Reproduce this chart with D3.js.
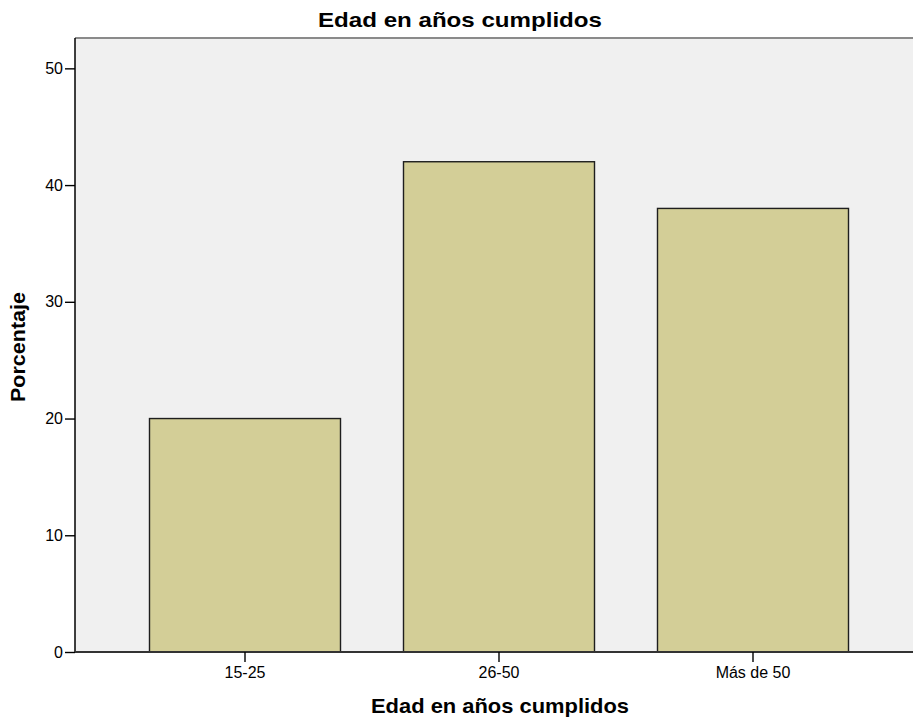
<!DOCTYPE html>
<html>
<head>
<meta charset="utf-8">
<script src="https://cdn.jsdelivr.net/npm/d3@7"></script>
<style>
  html, body { margin: 0; padding: 0; background: #ffffff; }
  svg { display: block; }
  text { font-family: "Liberation Sans", Arial, sans-serif; fill: #000; }
</style>
</head>
<body>
<svg id="chart" width="913" height="725"></svg>
<script>
// Age groups and their share of respondents (%)
const categories = ["15-25", "26-50", "Más de 50"];
const percentages = [20, 42, 38];
const yTicks = [0, 10, 20, 30, 40, 50];

const chartTitle = "Edad en años cumplidos";
const xTitle = "Edad en años cumplidos";
const yTitle = "Porcentaje";

const plot = { left: 75, top: 38, right: 913, bottom: 652 };
const FONT = "'Liberation Sans', Arial, sans-serif";

const svg = d3.select("#chart");

const y = d3.scaleLinear()
  .domain([0, 52.6])
  .range([plot.bottom, plot.top]);

const x = d3.scaleBand()
  .domain(categories)
  .range([118, 880])
  .paddingInner(0.248)
  .paddingOuter(0.124);

// plot background
svg.append("rect")
  .attr("x", plot.left)
  .attr("y", plot.top)
  .attr("width", plot.right - plot.left)
  .attr("height", plot.bottom - plot.top)
  .attr("fill", "#f0f0f0");

// top frame line
svg.append("line")
  .attr("x1", plot.left).attr("x2", plot.right)
  .attr("y1", plot.top).attr("y2", plot.top)
  .attr("stroke", "#8a8a8a").attr("stroke-width", 2);

// bars
svg.append("g")
  .selectAll("rect")
  .data(categories.map((c, i) => ({ c, v: percentages[i] })))
  .join("rect")
  .attr("x", d => x(d.c))
  .attr("y", d => y(d.v))
  .attr("width", x.bandwidth())
  .attr("height", d => y(0) - y(d.v))
  .attr("fill", "#d3ce97")
  .attr("stroke", "#1e1e1e")
  .attr("stroke-width", 1.4);

// y axis
const yAxis = svg.append("g")
  .attr("transform", `translate(${plot.left},0)`)
  .call(d3.axisLeft(y).tickValues(yTicks).tickSize(10).tickSizeOuter(0).tickPadding(2));
yAxis.select(".domain").attr("stroke", "#000").attr("stroke-width", 1.5)
  .attr("d", `M0,${plot.top}V${plot.bottom}`);
yAxis.selectAll(".tick line").attr("stroke", "#000").attr("stroke-width", 1.4);
yAxis.selectAll(".tick text")
  .attr("font-size", 16).attr("fill", "#222").attr("font-family", FONT);

// x axis
const xAxis = svg.append("g")
  .attr("transform", `translate(0,${plot.bottom})`)
  .call(d3.axisBottom(x).tickSize(10).tickSizeOuter(0).tickPadding(5));
xAxis.select(".domain").attr("stroke", "#333").attr("stroke-width", 2)
  .attr("d", `M${plot.left},0H${plot.right}`);
xAxis.selectAll(".tick line").attr("stroke", "#000").attr("stroke-width", 1.4);
xAxis.selectAll(".tick text")
  .attr("font-size", 16).attr("fill", "#222").attr("font-family", FONT);

// titles
svg.append("text")
  .attr("x", 460)
  .attr("y", 27)
  .attr("text-anchor", "middle")
  .attr("font-size", 21)
  .attr("font-weight", "bold")
  .attr("textLength", 284)
  .attr("lengthAdjust", "spacingAndGlyphs")
  .text(chartTitle);

svg.append("text")
  .attr("x", 500)
  .attr("y", 713)
  .attr("text-anchor", "middle")
  .attr("font-size", 21)
  .attr("font-weight", "bold")
  .attr("textLength", 258)
  .attr("lengthAdjust", "spacingAndGlyphs")
  .text(xTitle);

svg.append("text")
  .attr("transform", "translate(25,347) rotate(-90)")
  .attr("text-anchor", "middle")
  .attr("font-size", 20)
  .attr("font-weight", "bold")
  .attr("textLength", 110)
  .attr("lengthAdjust", "spacingAndGlyphs")
  .text(yTitle);
</script>
</body>
</html>
